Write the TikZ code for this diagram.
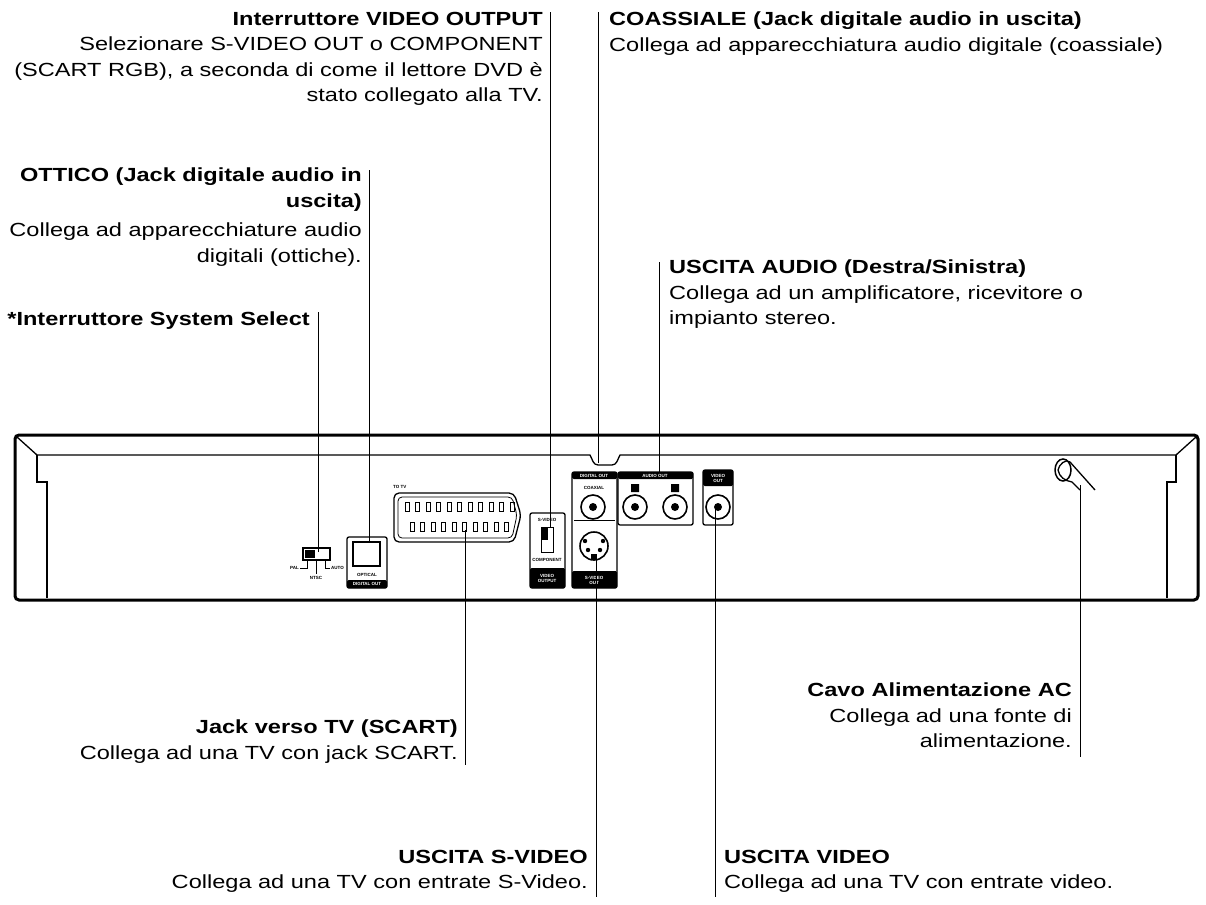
\documentclass[tikz,border=0pt]{standalone}
\usepackage{fontspec}
\setmainfont[FakeStretch=1.24]{Liberation Sans}
\newfontfamily\tinyfont{Liberation Sans}
\begin{document}
\begin{tikzpicture}[x=1pt,y=-1pt,
 lbl/.style = {inner sep=0pt, font=\fontsize{19}{25.5}\selectfont},
 lblR/.style = {lbl, align=right, anchor=north east},
 lblL/.style = {lbl, align=left, anchor=north west},
 lead/.style = {line width=1pt},
 tiny/.style = {inner sep=0pt, font=\tinyfont\fontsize{4.5}{5}\selectfont\bfseries},
 tinyw/.style = {tiny, text=white},
 band/.style = {fill=black, rounded corners=1.5pt},
 jack/.style = {circle, draw, line width=1.6pt, minimum size=24pt, inner sep=0pt}]
\useasboundingbox (0,0) rectangle (1206,904);

% labels
\node(vout) [lblR] at (543,12) {\textbf{Interruttore VIDEO OUTPUT}\\Selezionare S-VIDEO OUT o COMPONENT\\(SCART RGB), a seconda di come il lettore DVD è\\stato collegato alla TV.};
\node(coax) [lblL] at (609,12) {\textbf{COASSIALE (Jack digitale audio in uscita)}\\Collega ad apparecchiatura audio digitale (coassiale)};
\node(opt) [lblR] at (362,168) {\textbf{OTTICO (Jack digitale audio in}\\\textbf{uscita)}\\[4pt]Collega ad apparecchiature audio\\digitali (ottiche).};
\node(sys) [lblR] at (310,312) {\textbf{*Interruttore System Select}};
\node(aud) [lblL] at (669,260) {\textbf{USCITA AUDIO (Destra/Sinistra)}\\Collega ad un amplificatore, ricevitore o\\impianto stereo.};
\node(scart) [lblR] at (458,720) {\textbf{Jack verso TV (SCART)}\\Collega ad una TV con jack SCART.};
\node(svid) [lblR] at (588,850) {\textbf{USCITA S-VIDEO}\\Collega ad una TV con entrate S-Video.};
\node(vid) [lblL] at (724,850) {\textbf{USCITA VIDEO}\\Collega ad una TV con entrate video.};
\node(ac) [lblR] at (1072,683) {\textbf{Cavo Alimentazione AC}\\Collega ad una fonte di\\alimentazione.};

% panel
\draw[line width=3pt, rounded corners=4pt] (15,435) rectangle (1198,600);
\draw[line width=1.3pt] (17,437) -- (37,455) -- (590,455) to[out=-60,in=180] (598,465) -- (612,465) to[out=0,in=-120] (620,455) -- (1176,455) -- (1196,437);
\draw[line width=1.3pt] (37,455) -- (37,482) -- (47,482) -- (47,598);
\draw[line width=1.3pt] (1176,455) -- (1176,482) -- (1167,482) -- (1167,598);

% system select
\draw[line width=1.2pt] (303,548) rectangle (330,560);
\fill (305,550) rectangle (315,558);
\draw[line width=1pt] (307,560) -- (307,568) -- (300,568) (316,560) -- (316,574) (325,560) -- (325,568) -- (330,568);
\node(pal) [tiny, anchor=east] at (299,568) {PAL};
\node(ntsc) [tiny] at (316,578) {NTSC};
\node(auto) [tiny, anchor=west] at (331,568) {AUTO};
% optical
\draw[line width=1.3pt, rounded corners=2pt] (347,537) rectangle (387,588);
\draw[line width=1.5pt] (353,542) rectangle (380,566);
\node(optxt) [tiny] at (367,575) {OPTICAL};
\fill[band] (347,580) rectangle (387,588);
\node(dout) [tinyw] at (367,584) {DIGITAL OUT};
% scart
\node(totv) [tiny, anchor=west] at (393,487) {TO TV};
\draw[line width=1.3pt, rounded corners=5pt] (394,493) -- (514,493) -- (521,515) -- (514,542) -- (394,542) -- cycle;
\draw[line width=0.8pt, rounded corners=4pt] (398,497) -- (512,497) -- (517,515) -- (512,538) -- (398,538) -- cycle;
\foreach \i in {0,...,10} \draw[line width=0.9pt] (405+\i*10.5,502) rectangle +(4,9);
\foreach \i in {0,...,9} \draw[line width=0.9pt] (410+\i*10.5,522) rectangle +(4,9);
% video output switch
\draw[line width=1.3pt, rounded corners=2pt] (530,513) rectangle (565,588);
\node(sv) [tiny] at (547,520) {S-VIDEO};
\draw[line width=1pt] (541,527) rectangle (553,552);
\fill (542,528) rectangle (548,540);
\node(comp) [tiny] at (547,560) {COMPONENT};
\fill[band] (530,568) rectangle (565,588);
\node(voutt) [tinyw, align=center] at (547,578) {VIDEO\\OUTPUT};
% digital out / s-video
\draw[line width=1.3pt, rounded corners=2pt] (572,472) rectangle (617,588);
\fill[band] (572,472) rectangle (617,479);
\node(dig) [tinyw] at (594,475.5) {DIGITAL OUT};
\node(coaxt) [tiny] at (594,488) {COAXIAL};
\node(jc) [jack] at (593,507) {};
\fill (593,507) circle (4);
\draw[line width=1pt] (574,520) -- (615,520);
\node(sj) [circle, draw, line width=1.6pt, minimum size=28pt, inner sep=0pt] at (594,546) {};
\fill (585,541) circle (2.2) (603,541) circle (2.2) (588,550) circle (2.2) (600,550) circle (2.2);
\fill (591,554) rectangle (597,560);
\fill[band] (572,571) rectangle (617,588);
\node(svo) [tinyw, align=center] at (594,580) {S-VIDEO\\OUT};
% audio out
\draw[line width=1.3pt, rounded corners=2pt] (618,472) rectangle (693,525);
\fill[band] (618,472) rectangle (693,479);
\node(aot) [tinyw] at (655,475.5) {AUDIO OUT};
\fill (631,484) rectangle (639,492) (671,484) rectangle (679,492);
\node(jr) [jack] at (635,507) {};
\fill (635,507) circle (4);
\node(jl) [jack] at (675,507) {};
\fill (675,507) circle (4);
% video out
\draw[line width=1.3pt, rounded corners=2pt] (703,470) rectangle (733,525);
\fill[band] (703,470) rectangle (733,486);
\node(vot) [tinyw, align=center] at (718,478) {VIDEO\\OUT};
\node(jv) [jack] at (718,507) {};
\fill (718,507) circle (4);
% power cord
\draw[line width=1.5pt] (1063,470) ellipse (8 and 11);
\draw[line width=1.3pt] (1058,470) to[out=80,in=140] (1070,462) -- (1095,490);
\draw[line width=1.3pt] (1058,470) to[out=-80,in=170] (1072,482) -- (1080,490);

% leader lines
\coordinate(vsw) at (550,527);
\coordinate(coaxn) at (598,463);
\coordinate(optb) at (369,542);
\coordinate(sysb) at (318,552);
\coordinate(audb) at (659,472);
\coordinate(scb) at (465,530);
\coordinate(svb) at (596,560);
\coordinate(vb) at (715,507);
\coordinate(acb) at (1080,485);
\draw[lead] (vsw) -- (550,12);
\draw[lead] (coaxn) -- (598,12);
\draw[lead] (optb) -- (369,170);
\draw[lead] (sysb) -- (318,312);
\draw[lead] (audb) -- (659,262);
\draw[lead] (scb) -- (465,765);
\draw[lead] (svb) -- (596,897);
\draw[lead] (vb) -- (715,897);
\draw[lead] (acb) -- (1080,757);
\end{tikzpicture}
\end{document}
